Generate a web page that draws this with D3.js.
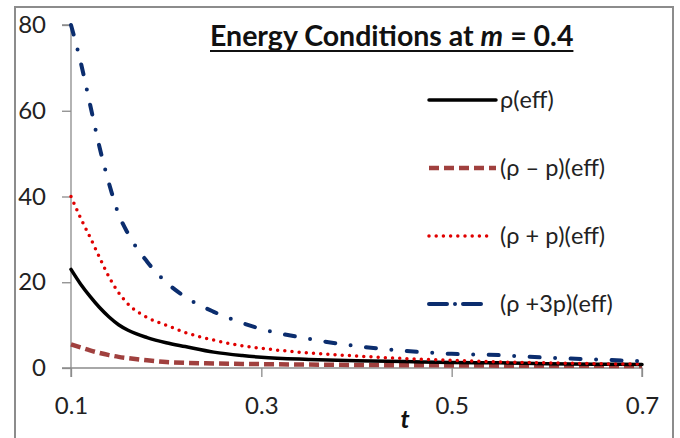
<!DOCTYPE html>
<html>
<head>
<meta charset="utf-8">
<script src="https://cdn.jsdelivr.net/npm/d3@7"></script>
<style>
  html, body { margin: 0; padding: 0; background: #fff; }
  svg { display: block; font-family: Lato, "Noto Sans", sans-serif; }
</style>
</head>
<body>
<svg id="chart" width="680" height="438"></svg>
<script>
// ---- data ----
const tValues   = [0.10,0.11,0.12,0.13,0.14,0.15,0.16,0.18,0.20,0.22,0.25,0.28,0.30,0.35,0.40,0.45,0.50,0.55,0.60,0.65,0.70];
const rhoEff    = [23,19.6,16.7,14.1,11.9,10.1,8.8,7.1,5.9,5.0,3.7,2.9,2.5,2.0,1.7,1.5,1.3,1.2,1.0,0.9,0.8];
const rhoMinusP = [5.5,4.8,4.1,3.5,3.0,2.6,2.3,1.8,1.4,1.2,1.05,0.95,0.9,0.8,0.7,0.65,0.6,0.55,0.5,0.5,0.45];
const rhoPlusP  = [40,35,30.5,25.8,21.2,17.6,14.9,11.8,10.0,8.3,6.5,5.2,4.6,3.5,2.8,2.2,1.8,1.4,1.2,1.0,0.9];
const rhoPlus3P = [80,71.5,61.5,51.5,43,35.9,31.3,24.8,20,16.6,13.1,10.5,9.1,6.8,5.1,4.0,3.3,3.0,2.4,2.0,1.6];
const xTicks = [0.1, 0.3, 0.5, 0.7];
const yTicks = [0, 20, 40, 60, 80];
const seriesNames = ["ρ(eff)", "(ρ – p)(eff)", "(ρ + p)(eff)", "(ρ +3p)(eff)"];

const series = [
  {name: seriesNames[0], values: rhoEff,    color: "#000000", width: 3.5, dash: null,              cap: "round"},
  {name: seriesNames[1], values: rhoMinusP, color: "#A0403E", width: 4.5, dash: "10,5",            cap: "butt"},
  {name: seriesNames[2], values: rhoPlusP,  color: "#E00000", width: 3.5, dash: "0,7.2",           cap: "round"},
  {name: seriesNames[3], values: rhoPlus3P, color: "#0B2D6E", width: 4,   dash: "10,15.5,0,15.5",  cap: "round"}
];

const svg = d3.select("#chart");

// chart border
svg.append("rect").attr("x", 15).attr("y", 7).attr("width", 658).attr("height", 460)
  .attr("fill", "#fff").attr("stroke", "#8c8c8c").attr("stroke-width", 2);

const x = d3.scaleLinear().domain([0.1, 0.7]).range([71, 642]);
const y = d3.scaleLinear().domain([0, 80]).range([368, 25]);

// axes
const axisColor = "#8c8c8c";
const yAxis = svg.append("g").attr("transform", "translate(71,0)")
  .call(d3.axisLeft(y).tickValues(yTicks).tickSize(9).tickPadding(16).tickFormat(d3.format("d")));
const xAxis = svg.append("g").attr("transform", "translate(0,368)")
  .call(d3.axisBottom(x).tickValues(xTicks).tickSize(9).tickPadding(20).tickFormat(d3.format(".1f")));
[xAxis, yAxis].forEach(g => {
  g.select(".domain").attr("stroke", axisColor).attr("stroke-width", 1.3);
  g.selectAll(".tick line").attr("stroke", axisColor).attr("stroke-width", 1.3);
  g.selectAll(".tick text").attr("fill", "#222").style("font-size", "24px").style("font-family", "Lato, 'Noto Sans', sans-serif");
});
yAxis.select(".domain").attr("d", `M-9,${y(80)}H0V${y(0)}H-9`);
xAxis.select(".domain").attr("d", `M${x(0.1)},9V0H${x(0.7)}V9`);

// lines
const line = d3.line().x((d, i) => x(tValues[i])).y(d => y(d)).curve(d3.curveMonotoneX);
const plotOrder = [1, 0, 2, 3];
plotOrder.forEach(k => {
  const s = series[k];
  svg.append("path").datum(s.values)
    .attr("d", line)
    .attr("fill", "none")
    .attr("stroke", s.color)
    .attr("stroke-width", s.width)
    .attr("stroke-dasharray", s.dash)
    .attr("stroke-linecap", s.cap)
    .attr("stroke-linejoin", "round");
});

// title
const title = svg.append("text").attr("x", 210).attr("y", 46)
  .style("font-size", "28.5px").style("font-weight", "bold").attr("fill", "#111");
title.append("tspan").text("Energy Conditions at ");
title.append("tspan").style("font-style", "italic").text("m");
title.append("tspan").text(" = 0.4");
const tb = title.node().getBBox();
svg.append("line").attr("x1", tb.x).attr("x2", tb.x + tb.width).attr("y1", 51).attr("y2", 51)
  .attr("stroke", "#111").attr("stroke-width", 2);

// x axis label
svg.append("text").attr("x", 405).attr("y", 428).attr("text-anchor", "middle")
  .style("font-size", "25px").style("font-weight", "bold").style("font-style", "italic")
  .attr("fill", "#111").text("t");

// legend
const legendY = [100, 168, 236, 304];
const legendX2 = [496, 496, 493, 483];
series.forEach((s, i) => {
  svg.append("line").attr("x1", 429).attr("x2", legendX2[i])
    .attr("y1", legendY[i]).attr("y2", legendY[i])
    .attr("stroke", s.color).attr("stroke-width", s.width)
    .attr("stroke-dasharray", i === 3 ? "18,8,0,8" : s.dash)
    .attr("stroke-linecap", s.cap);
  svg.append("text").attr("x", 500).attr("y", legendY[i]).attr("dy", "0.35em")
    .style("font-size", "23.5px").attr("fill", "#222").text(s.name);
});
</script>
</body>
</html>
